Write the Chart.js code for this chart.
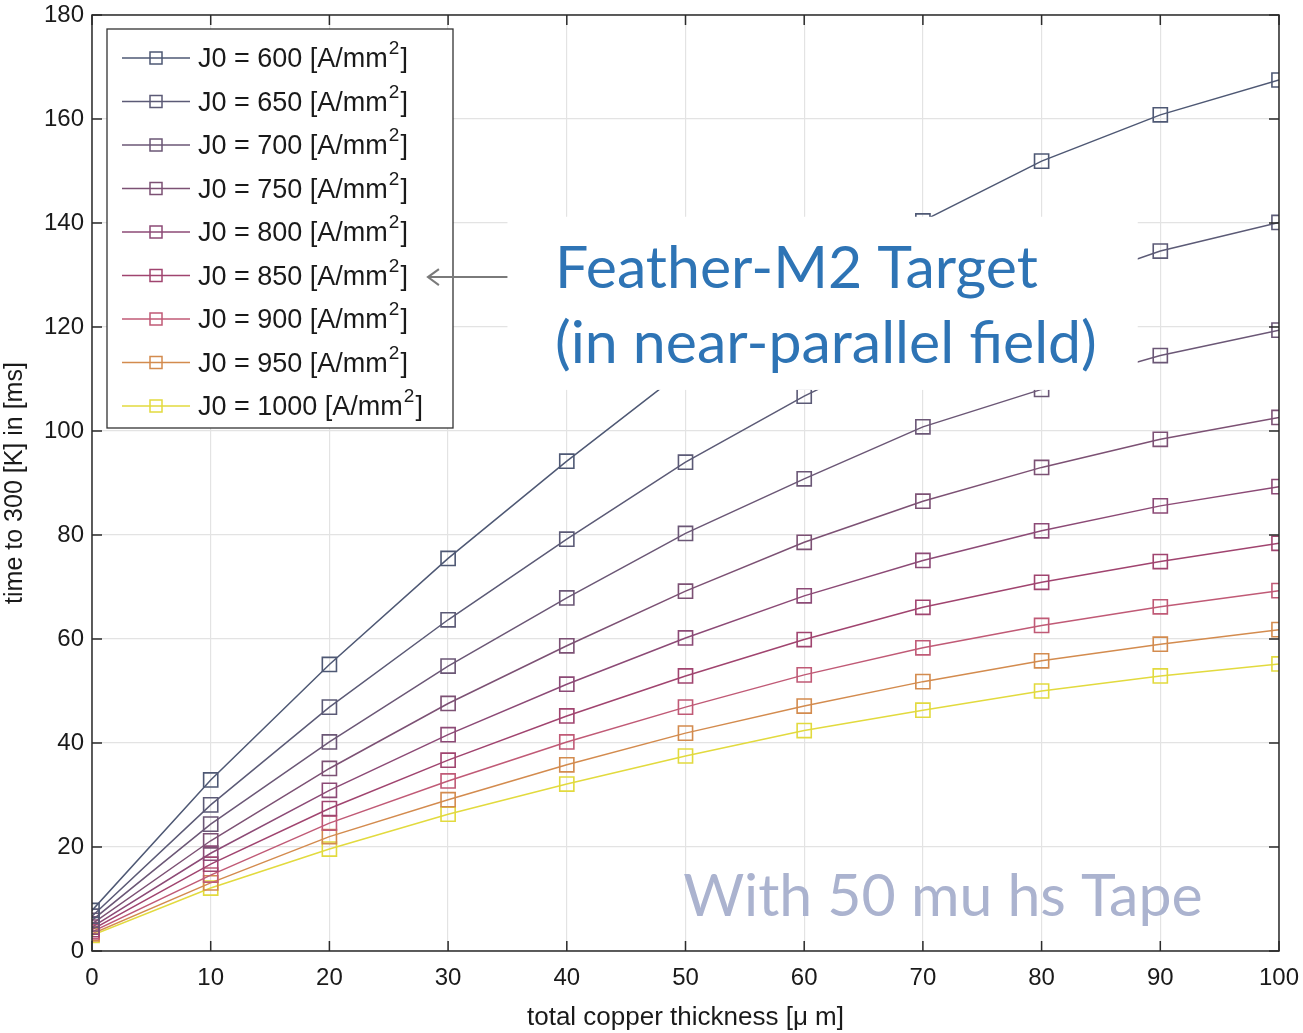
<!DOCTYPE html>
<html>
<head>
<meta charset="utf-8">
<script src="https://cdn.jsdelivr.net/npm/chart.js@4.4.1/dist/chart.umd.min.js"></script>
<style>
  html, body { margin: 0; padding: 0; background: #fff; }
  #wrap { width: 1303px; height: 1033px; }
</style>
</head>
<body>
<div id="wrap"><canvas id="quenchChart"></canvas></div>
<script>
// copper thickness [um] on x, time to 300 K [ms] on y
const thickness = [0, 10, 20, 30, 40, 50, 60, 70, 80, 90, 100];
const j600  = [7.8, 32.9, 55.1, 75.5, 94.2, 111.9, 127.0, 140.4, 151.9, 160.8, 167.5];
const j650  = [6.7, 28.1, 46.9, 63.7, 79.2, 94.0, 106.7, 117.8, 126.7, 134.6, 140.1];
const j700  = [5.9, 24.4, 40.2, 54.8, 67.9, 80.3, 90.8, 100.8, 108.0, 114.5, 119.4];
const j750  = [5.2, 21.2, 35.1, 47.6, 58.7, 69.2, 78.6, 86.5, 93.0, 98.4, 102.6];
const j800  = [4.6, 18.8, 30.9, 41.6, 51.3, 60.2, 68.3, 75.1, 80.8, 85.6, 89.3];
const j850  = [4.1, 16.7, 27.4, 36.7, 45.2, 52.9, 59.9, 66.1, 70.9, 74.9, 78.4];
const j900  = [3.7, 14.6, 24.6, 32.7, 40.2, 46.9, 53.1, 58.3, 62.6, 66.2, 69.3];
const j950  = [3.3, 13.1, 22.0, 29.1, 35.8, 41.9, 47.1, 51.8, 55.8, 59.0, 61.8];
const j1000 = [3.0, 12.1, 19.6, 26.3, 32.1, 37.5, 42.4, 46.3, 50.0, 52.9, 55.2];

const currents = [600, 650, 700, 750, 800, 850, 900, 950, 1000];
const seriesValues = [j600, j650, j700, j750, j800, j850, j900, j950, j1000];
const seriesColors = ['#4e5874', '#5b5a76', '#6b5776', '#7c5174', '#8c4a76', '#a0446f', '#c05a76', '#d38b4e', '#e2da3e'];

const xTicks = [0, 10, 20, 30, 40, 50, 60, 70, 80, 90, 100];
const yTicks = [0, 20, 40, 60, 80, 100, 120, 140, 160, 180];

const datasets = currents.map((j, i) => ({
  label: 'J0 = ' + j + ' [A/mm2]',
  data: thickness.map((t, k) => ({ x: t, y: seriesValues[i][k] })),
  borderColor: seriesColors[i],
  borderWidth: 1.5,
  pointStyle: 'rect',
  pointRadius: 10,
  pointBorderWidth: 1.6,
  pointBorderColor: seriesColors[i],
  pointBackgroundColor: 'rgba(0,0,0,0)',
  tension: 0,
  fill: false
}));

const SANS = 'Liberation Sans, Arial, sans-serif';
const TICK_FONT = { family: SANS, size: 24 };
const AXIS_COLOR = '#2b2b2b';

// frame, inward tick marks, legend box and text notes
const decorations = {
  id: 'decorations',
  afterDatasetsDraw(chart) {
    const { ctx, chartArea: a, scales: { x, y } } = chart;
    ctx.save();

    // note box that hides the curves behind it
    const bx0 = x.getPixelForValue(35), bx1 = x.getPixelForValue(88.1);
    const by0 = y.getPixelForValue(141.2), by1 = y.getPixelForValue(107.9);
    ctx.fillStyle = '#fff';
    ctx.fillRect(bx0, by0, bx1 - bx0, by1 - by0);

    // legend
    const lx = a.left + 15, ly = a.top + 14, lw = 346, lh = 399;
    ctx.fillStyle = '#fff';
    ctx.fillRect(lx, ly, lw, lh);
    ctx.strokeStyle = '#333';
    ctx.lineWidth = 1.3;
    ctx.strokeRect(lx, ly, lw, lh);
    currents.forEach((j, i) => {
      const cy = ly + 29 + i * 43.5;
      ctx.strokeStyle = seriesColors[i];
      ctx.lineWidth = 1.5;
      ctx.beginPath();
      ctx.moveTo(lx + 15, cy);
      ctx.lineTo(lx + 83, cy);
      ctx.stroke();
      ctx.strokeRect(lx + 43, cy - 6, 12, 12);

      ctx.fillStyle = '#1a1a1a';
      ctx.textBaseline = 'middle';
      ctx.font = '27px ' + SANS;
      const head = 'J0 = ' + j + ' [A/mm';
      let tx = lx + 91;
      ctx.fillText(head, tx, cy + 2);
      tx += ctx.measureText(head).width + 1;
      ctx.font = '19px ' + SANS;
      ctx.fillText('2', tx, cy - 9);
      tx += ctx.measureText('2').width + 1;
      ctx.font = '27px ' + SANS;
      ctx.fillText(']', tx, cy + 2);
    });

    // arrow pointing at the 850 legend entry
    const ay = y.getPixelForValue(129.6);
    const tip = x.getPixelForValue(28.3);
    ctx.strokeStyle = '#7a7a7a';
    ctx.lineWidth = 2;
    ctx.beginPath();
    ctx.moveTo(bx0, ay);
    ctx.lineTo(tip, ay);
    ctx.moveTo(tip + 11, ay - 8);
    ctx.lineTo(tip, ay);
    ctx.lineTo(tip + 11, ay + 8);
    ctx.stroke();

    ctx.font = '59px Lato, "Open Sans", sans-serif';
    ctx.textBaseline = 'alphabetic';
    ctx.textAlign = 'left';
    ctx.fillStyle = '#2e74b5';
    ctx.fillText('Feather-M2 Target', x.getPixelForValue(39.0), y.getPixelForValue(127.5));
    ctx.fillText('(in near-parallel field)', x.getPixelForValue(39.0), y.getPixelForValue(113.0));

    ctx.fillStyle = '#abb3cf';
    ctx.fillText('With 50 mu hs Tape', x.getPixelForValue(49.8), y.getPixelForValue(6.7));
    ctx.restore();
  },
  afterDraw(chart) {
    const { ctx, chartArea: a, scales: { x, y } } = chart;
    ctx.save();
    ctx.strokeStyle = AXIS_COLOR;
    ctx.lineWidth = 1.5;
    ctx.strokeRect(a.left, a.top, a.right - a.left, a.bottom - a.top);
    ctx.beginPath();
    const len = 10;
    yTicks.forEach(v => {
      const py = y.getPixelForValue(v);
      ctx.moveTo(a.left, py); ctx.lineTo(a.left + len, py);
      ctx.moveTo(a.right, py); ctx.lineTo(a.right - len, py);
    });
    xTicks.forEach(v => {
      const px = x.getPixelForValue(v);
      ctx.moveTo(px, a.bottom); ctx.lineTo(px, a.bottom - len);
      ctx.moveTo(px, a.top); ctx.lineTo(px, a.top + len);
    });
    ctx.stroke();
    ctx.restore();
  }
};

new Chart(document.getElementById('quenchChart'), {
  type: 'line',
  data: { datasets },
  options: {
    responsive: true,
    maintainAspectRatio: false,
    animation: false,
    layout: { padding: { top: 15, right: 24, left: 0, bottom: 0 } },
    plugins: {
      legend: { display: false },
      tooltip: { enabled: false }
    },
    scales: {
      x: {
        type: 'linear',
        min: 0,
        max: 100,
        afterBuildTicks: s => { s.ticks = xTicks.map(v => ({ value: v })); },
        afterFit: s => { s.height = 82; s.paddingLeft = 0; s.paddingRight = 0; },
        grid: { color: '#e3e3e3', lineWidth: 1.2, drawTicks: false },
        border: { display: false },
        ticks: { color: '#1a1a1a', font: TICK_FONT, padding: 13, maxRotation: 0 },
        title: {
          display: true,
          text: 'total copper thickness [\u03bc m]',
          color: '#1a1a1a',
          font: { family: SANS, size: 26 },
          padding: { top: 0, bottom: 0 }
        }
      },
      y: {
        type: 'linear',
        min: 0,
        max: 180,
        afterBuildTicks: s => { s.ticks = yTicks.map(v => ({ value: v })); },
        afterFit: s => { s.width = 92; s.paddingTop = 0; s.paddingBottom = 0; },
        grid: { color: '#e3e3e3', lineWidth: 1.2, drawTicks: false },
        border: { display: false },
        ticks: { color: '#1a1a1a', font: TICK_FONT, padding: 8 },
        title: {
          display: true,
          text: 'time to 300 [K] in [ms]',
          color: '#1a1a1a',
          font: { family: SANS, size: 25 },
          padding: 0
        }
      }
    }
  },
  plugins: [decorations]
});
</script>
</body>
</html>
